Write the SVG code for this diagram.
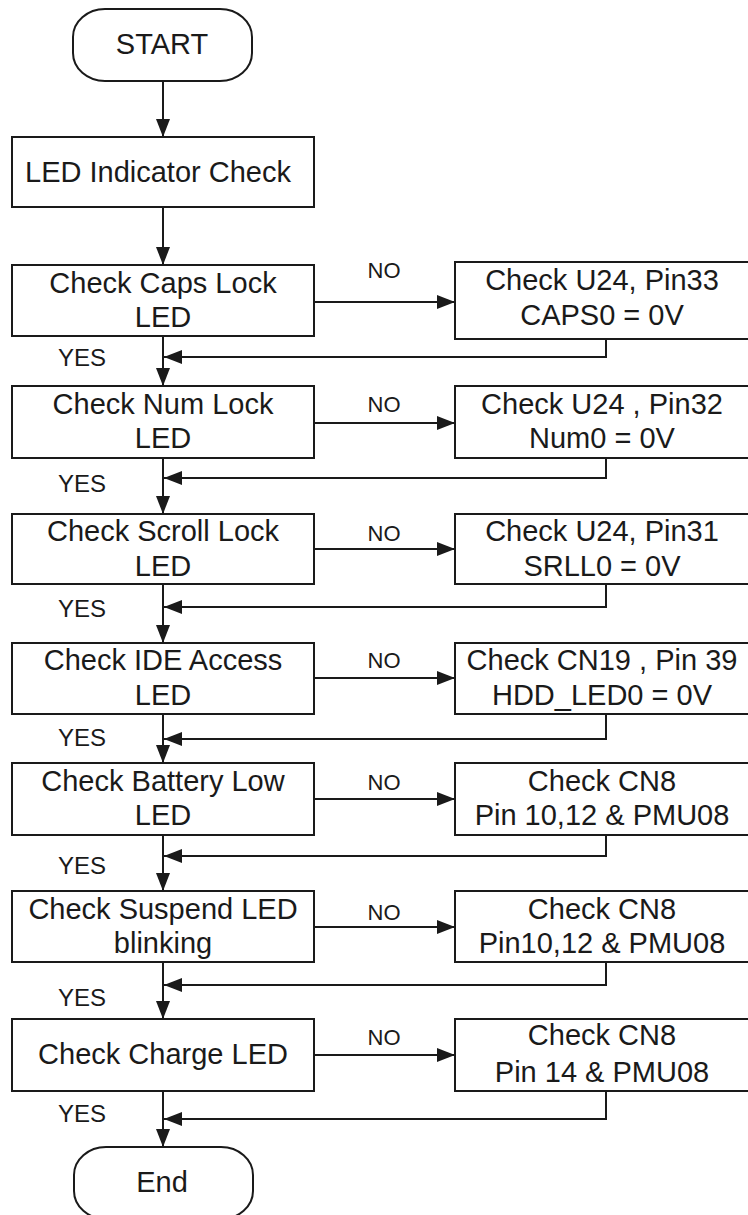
<svg xmlns="http://www.w3.org/2000/svg" width="748" height="1215" viewBox="0 0 748 1215">
<style>
.box{fill:#fff;stroke:#1a1a1a;stroke-width:2}
.t{font-family:"Liberation Sans",Arial,sans-serif;font-size:29px;fill:#1a1a1a;text-anchor:middle}
.no{font-family:"Liberation Sans",Arial,sans-serif;font-size:22px;fill:#1a1a1a;text-anchor:middle}
.yes{font-family:"Liberation Sans",Arial,sans-serif;font-size:24px;fill:#1a1a1a;text-anchor:middle}
.c{fill:none;stroke:#1a1a1a;stroke-width:2}
</style>
<defs>
<marker id="ah" markerUnits="userSpaceOnUse" markerWidth="18" markerHeight="14" refX="18" refY="7" orient="auto">
<path d="M0,0 L18,7 L0,14 z" fill="#1a1a1a"/>
</marker>
</defs>
<rect width="748" height="1215" fill="#fff"/>
<g id="connectors">
<line class="c" x1="163" y1="81" x2="163" y2="137" marker-end="url(#ah)"/>
<line class="c" x1="163" y1="207" x2="163" y2="265" marker-end="url(#ah)"/>
<line class="c" x1="163" y1="336" x2="163" y2="386" marker-end="url(#ah)"/>
<line class="c" x1="163" y1="458" x2="163" y2="514" marker-end="url(#ah)"/>
<line class="c" x1="163" y1="584" x2="163" y2="643" marker-end="url(#ah)"/>
<line class="c" x1="163" y1="714" x2="163" y2="763" marker-end="url(#ah)"/>
<line class="c" x1="163" y1="835" x2="163" y2="891" marker-end="url(#ah)"/>
<line class="c" x1="163" y1="962" x2="163" y2="1019" marker-end="url(#ah)"/>
<line class="c" x1="163" y1="1091" x2="163" y2="1147" marker-end="url(#ah)"/>
<line class="c" x1="314" y1="302" x2="455" y2="302" marker-end="url(#ah)"/>
<line class="c" x1="314" y1="423" x2="455" y2="423" marker-end="url(#ah)"/>
<line class="c" x1="314" y1="549" x2="455" y2="549" marker-end="url(#ah)"/>
<line class="c" x1="314" y1="678" x2="455" y2="678" marker-end="url(#ah)"/>
<line class="c" x1="314" y1="799" x2="455" y2="799" marker-end="url(#ah)"/>
<line class="c" x1="314" y1="927" x2="455" y2="927" marker-end="url(#ah)"/>
<line class="c" x1="314" y1="1055" x2="455" y2="1055" marker-end="url(#ah)"/>
<polyline class="c" points="606,339 606,357 164,357" marker-end="url(#ah)"/>
<polyline class="c" points="606,458 606,478 164,478" marker-end="url(#ah)"/>
<polyline class="c" points="606,584 606,607 164,607" marker-end="url(#ah)"/>
<polyline class="c" points="606,714 606,739 164,739" marker-end="url(#ah)"/>
<polyline class="c" points="606,835 606,856 164,856" marker-end="url(#ah)"/>
<polyline class="c" points="606,962 606,985 164,985" marker-end="url(#ah)"/>
<polyline class="c" points="606,1091 606,1119 164,1119" marker-end="url(#ah)"/>
<text class="no" x="384" y="278">NO</text>
<text class="no" x="384" y="412">NO</text>
<text class="no" x="384" y="541">NO</text>
<text class="no" x="384" y="668">NO</text>
<text class="no" x="384" y="790">NO</text>
<text class="no" x="384" y="920">NO</text>
<text class="no" x="384" y="1045">NO</text>
<text class="yes" x="82" y="366">YES</text>
<text class="yes" x="82" y="492">YES</text>
<text class="yes" x="82" y="617">YES</text>
<text class="yes" x="82" y="746">YES</text>
<text class="yes" x="82" y="874">YES</text>
<text class="yes" x="82" y="1006">YES</text>
<text class="yes" x="82" y="1122">YES</text>
</g>
<g id="start">
<rect class="box" x="73" y="9" width="179" height="72" rx="32" ry="28"/>
<text class="t" x="162" y="54">START</text>
</g>
<g id="led-indicator">
<rect class="box" x="12" y="137" width="302" height="70"/>
<text class="t" x="158" y="182">LED Indicator Check</text>
</g>
<g id="caps">
<rect class="box" x="12" y="265" width="302" height="71"/>
<text class="t" x="163" y="293">Check Caps Lock</text>
<text class="t" x="163" y="327">LED</text>
</g>
<g id="caps-no">
<rect class="box" x="455" y="262" width="300" height="77"/>
<text class="t" x="602" y="290">Check U24, Pin33</text>
<text class="t" x="602" y="325">CAPS0 = 0V</text>
</g>
<g id="num">
<rect class="box" x="12" y="386" width="302" height="72"/>
<text class="t" x="163" y="414">Check Num Lock</text>
<text class="t" x="163" y="448">LED</text>
</g>
<g id="num-no">
<rect class="box" x="455" y="386" width="300" height="72"/>
<text class="t" x="602" y="414">Check U24 , Pin32</text>
<text class="t" x="602" y="448">Num0 = 0V</text>
</g>
<g id="scroll">
<rect class="box" x="12" y="514" width="302" height="70"/>
<text class="t" x="163" y="541">Check Scroll Lock</text>
<text class="t" x="163" y="576">LED</text>
</g>
<g id="scroll-no">
<rect class="box" x="455" y="514" width="300" height="70"/>
<text class="t" x="602" y="541">Check U24, Pin31</text>
<text class="t" x="602" y="576">SRLL0 = 0V</text>
</g>
<g id="ide">
<rect class="box" x="12" y="643" width="302" height="71"/>
<text class="t" x="163" y="670">Check IDE Access</text>
<text class="t" x="163" y="705">LED</text>
</g>
<g id="ide-no">
<rect class="box" x="455" y="643" width="300" height="71"/>
<text class="t" x="602" y="670">Check CN19 , Pin 39</text>
<text class="t" x="602" y="705">HDD_LED0 = 0V</text>
</g>
<g id="battery">
<rect class="box" x="12" y="763" width="302" height="72"/>
<text class="t" x="163" y="791">Check Battery Low</text>
<text class="t" x="163" y="825">LED</text>
</g>
<g id="battery-no">
<rect class="box" x="455" y="763" width="300" height="72"/>
<text class="t" x="602" y="791">Check CN8</text>
<text class="t" x="602" y="825">Pin 10,12 &amp; PMU08</text>
</g>
<g id="suspend">
<rect class="box" x="12" y="891" width="302" height="71"/>
<text class="t" x="163" y="919">Check Suspend LED</text>
<text class="t" x="163" y="953">blinking</text>
</g>
<g id="suspend-no">
<rect class="box" x="455" y="891" width="300" height="71"/>
<text class="t" x="602" y="919">Check CN8</text>
<text class="t" x="602" y="953">Pin10,12 &amp; PMU08</text>
</g>
<g id="charge">
<rect class="box" x="12" y="1019" width="302" height="72"/>
<text class="t" x="163" y="1064">Check Charge LED</text>
</g>
<g id="charge-no">
<rect class="box" x="455" y="1019" width="300" height="72"/>
<text class="t" x="602" y="1045">Check CN8</text>
<text class="t" x="602" y="1082">Pin 14 &amp; PMU08</text>
</g>
<g id="end">
<rect class="box" x="74" y="1147" width="179" height="72" rx="32" ry="28"/>
<text class="t" x="162" y="1192">End</text>
</g>
</svg>
